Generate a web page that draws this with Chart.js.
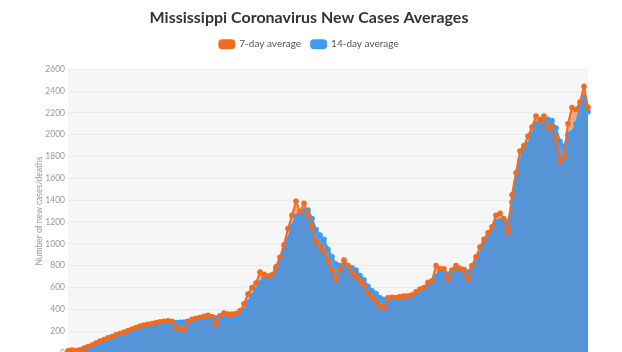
<!DOCTYPE html>
<html><head><meta charset="utf-8">
<script src="https://cdn.jsdelivr.net/npm/chart.js@4.4.0/dist/chart.umd.min.js"></script>
<style>html,body{margin:0;padding:0;background:#fff;overflow:hidden}#wrap{width:622px;height:352px;overflow:hidden}</style>
</head><body><div id="wrap"><canvas id="c" width="622" height="361"></canvas></div>
<script>
const sevenDay = [20,25,22,28,45,58,72,90,108,122,138,150,165,178,190,205,218,232,246,255,262,268,278,285,290,295,290,235,225,212,290,308,318,325,335,345,330,262,340,365,355,355,360,385,450,540,600,640,740,720,705,715,790,877,990,1140,1260,1390,1293,1370,1270,1155,1020,975,930,850,760,677,770,850,800,740,700,660,625,545,510,470,430,415,505,510,508,515,520,522,530,560,585,600,647,660,800,770,770,677,760,800,775,760,677,800,880,970,1040,1100,1155,1260,1280,1230,1109,1450,1650,1850,1900,1987,2070,2170,2125,2170,2063,2079,1970,1756,1800,2100,2248,2230,2300,2440,2250];
const fourteenDay = [5,8,10,12,25,40,52,66,83,96,112,126,140,152,165,178,192,208,222,232,240,246,255,263,268,272,275,278,280,283,288,293,298,305,315,323,325,322,320,318,312,308,320,350,390,460,520,580,640,680,690,700,770,830,930,1040,1160,1250,1280,1300,1310,1232,1130,1080,1040,950,880,815,800,800,792,780,760,710,670,610,570,545,505,490,480,495,505,510,515,518,525,540,554,580,610,640,700,740,740,723,740,757,770,765,740,770,820,900,1000,1055,1109,1200,1210,1195,1201,1380,1560,1760,1880,1909,2000,2100,2141,2130,2141,2130,2060,1940,1890,2002,2017,2100,2250,2340,2210];
const yTicks = [0,200,400,600,800,1000,1200,1400,1600,1800,2000,2200,2400,2600];
const categories = sevenDay.map((_, i) => 'Day ' + (i + 1));
const seriesNames = ['7-day average', '14-day average'];

const ORANGE = '#f26b1d', BLUE = '#3d9bf0';

const bgPlugin = {
  id: 'bg',
  afterInit(chart) {
    const lg = chart.legend;
    if (lg && !lg._patched) {
      const f = lg.fit;
      lg.fit = function () { f.call(this); this.height += 10; };
      lg._patched = true;
    }
  },
  beforeDraw(chart) {
    const {ctx, chartArea: a} = chart;
    ctx.save();
    ctx.fillStyle = '#f6f6f6';
    ctx.fillRect(a.left, a.top, a.right - a.left, a.bottom - a.top);
    ctx.restore();
  }
};

new Chart(document.getElementById('c'), {
  type: 'line',
  data: {
    labels: categories,
    datasets: [
      {label: seriesNames[0], data: sevenDay, borderColor: ORANGE, backgroundColor: ORANGE, pointBackgroundColor: ORANGE, pointBorderColor: ORANGE, fill: false, borderWidth: 2, pointRadius: 2.8, pointBorderWidth: 0},
      {label: seriesNames[1], data: fourteenDay, borderColor: BLUE, backgroundColor: BLUE, pointBackgroundColor: BLUE, pointBorderColor: BLUE, fill: false, borderWidth: 2, pointRadius: 2.8, pointBorderWidth: 0},
      {label: 'fill14', data: fourteenDay, borderWidth: 0, pointRadius: 0, fill: 'origin', backgroundColor: 'rgba(58,144,228,0.85)'},
      {label: 'fill7', data: sevenDay, borderWidth: 0, pointRadius: 0, fill: 'origin', backgroundColor: 'rgba(242,106,27,0.55)'}
    ]
  },
  options: {
    responsive: false,
    animation: false,
    layout: {padding: {left: 30, right: 34, top: 0, bottom: 2}},
    plugins: {
      title: {display: true, text: 'Mississippi Coronavirus New Cases Averages', color: '#333', font: {family: 'Lato', size: 16, weight: 'bold'}, padding: {top: 8, bottom: 2}},
      legend: {
        labels: {
          filter: item => item.datasetIndex < 2,
          boxWidth: 15, boxHeight: 8, useBorderRadius: true, borderRadius: 3,
          color: '#555', font: {family: 'Lato', size: 10}, padding: 10
        }
      },
      tooltip: {enabled: false}
    },
    scales: {
      x: {display: false, offset: false},
      y: {
        min: 0, max: 2600,
        afterBuildTicks: s => { s.ticks = yTicks.map(v => ({value: v})); },
        afterFit: s => { s.width = 38; },
        ticks: {color: '#999', font: {family: 'Lato', size: 8.5}, padding: 3, callback: v => String(v)},
        grid: {color: '#ebebeb', drawTicks: false},
        border: {display: false},
        title: {display: true, text: 'Number of new cases/deaths', color: '#999', font: {family: 'Lato', size: 8.5}, padding: {top: 4, bottom: 2}}
      }
    }
  },
  plugins: [bgPlugin]
});
</script>
</body></html>
